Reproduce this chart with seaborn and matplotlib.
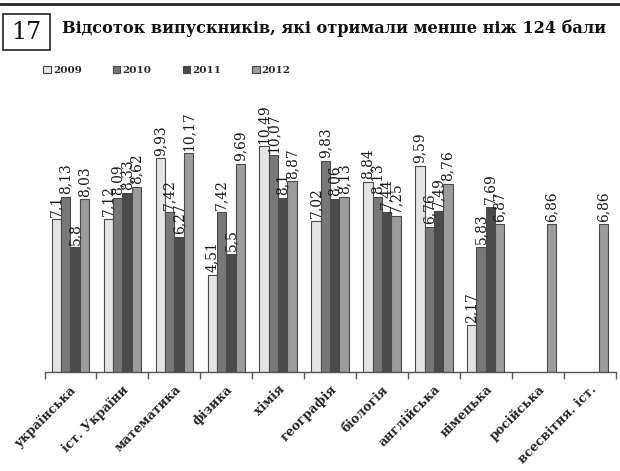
import numpy as np
import pandas as pd
import seaborn as sns
import matplotlib.pyplot as plt
from matplotlib.patches import Rectangle
from matplotlib.lines import Line2D

# ---------------- дані ----------------
subjects = ["українська", "іст. України", "математика", "фізика", "хімія",
            "географія", "біологія", "англійська", "німецька", "російська",
            "всесвітня. іст."]
years = ["2009", "2010", "2011", "2012"]
v2009 = [7.1, 7.12, 9.93, 4.51, 10.49, 7.02, 8.84, 9.59, 2.17, np.nan, np.nan]
v2010 = [8.13, 8.09, 7.42, 7.42, 10.07, 9.83, 8.13, 6.76, 5.83, np.nan, np.nan]
v2011 = [5.8, 8.33, 6.27, 5.5, 8.1, 8.06, 7.44, 7.49, 7.69, np.nan, np.nan]
v2012 = [8.03, 8.62, 10.17, 9.69, 8.87, 8.13, 7.25, 8.76, 6.87, 6.86, 6.86]
colors = ["#e4e4e4", "#787878", "#4b4b4b", "#9c9c9c"]

df = pd.DataFrame({
    "subject": subjects * 4,
    "year": sum([[y] * len(subjects) for y in years], []),
    "value": v2009 + v2010 + v2011 + v2012,
})

sns.set_theme(style="white")
plt.rcParams['font.family'] = ['DejaVu Serif']

fig = plt.figure(figsize=(6.2, 4.71), dpi=100)
ax = fig.add_axes([0.0718, 0.2102, 0.921, 0.5478])

sns.barplot(data=df, x="subject", y="value", hue="year", order=subjects,
            hue_order=years, palette=colors, width=0.72, edgecolor="#4a4a4a",
            linewidth=0.8, legend=False, ax=ax)

# підписи значень
for cont in ax.containers:
    ax.bar_label(cont, fmt=lambda v: f"{v:g}".replace(".", ","), rotation=90,
                 padding=2, fontsize=10, color="#1a1a1a")

ax.set_ylim(0, 12)
ax.set_xlim(-0.5, len(subjects) - 0.5)
ax.set_xlabel("")
ax.set_ylabel("")
ax.set_yticks([])
for s in ["top", "right", "left"]:
    ax.spines[s].set_visible(False)
ax.spines["bottom"].set_color("#555555")
ax.spines["bottom"].set_linewidth(1.0)

ax.set_xticks(np.arange(-0.5, len(subjects)), minor=True)
ax.tick_params(axis="x", which="minor", length=5, width=1, color="#555555",
               direction="out", bottom=True)
ax.tick_params(axis="x", which="major", length=0, pad=8)
for lbl in ax.get_xticklabels():
    lbl.set_rotation(45)
    lbl.set_ha("right")
    lbl.set_rotation_mode("anchor")
    lbl.set_fontsize(9)
    lbl.set_fontweight("bold")
    lbl.set_color("#222222")

# легенда
handles = [Rectangle((0, 0), 1, 1, facecolor=c, edgecolor="#444444", linewidth=0.8)
           for c in colors]
fig.legend(handles, years, loc="center left", bbox_to_anchor=(0.055, 0.851),
           ncol=4, frameon=False, handlelength=0.7, handleheight=0.7,
           handletextpad=0.2, columnspacing=3.0,
           prop={"family": "DejaVu Serif", "weight": "bold", "size": 7.5})

# заголовок
fig.add_artist(Line2D([0, 1], [0.991, 0.991], color="#222222", linewidth=2))
fig.add_artist(Rectangle((0.005, 0.894), 0.076, 0.076, fill=False,
                         edgecolor="#222222", linewidth=1.2,
                         transform=fig.transFigure))
fig.text(0.043, 0.932, "17", ha="center", va="center", fontsize=17,
         color="#111111")
fig.text(0.1, 0.94, "Відсоток випускників, які отримали менше ніж 124 бали",
         ha="left", va="center", fontsize=11.6, fontweight="bold", color="#111111")

fig.savefig("out.png", dpi=100)
